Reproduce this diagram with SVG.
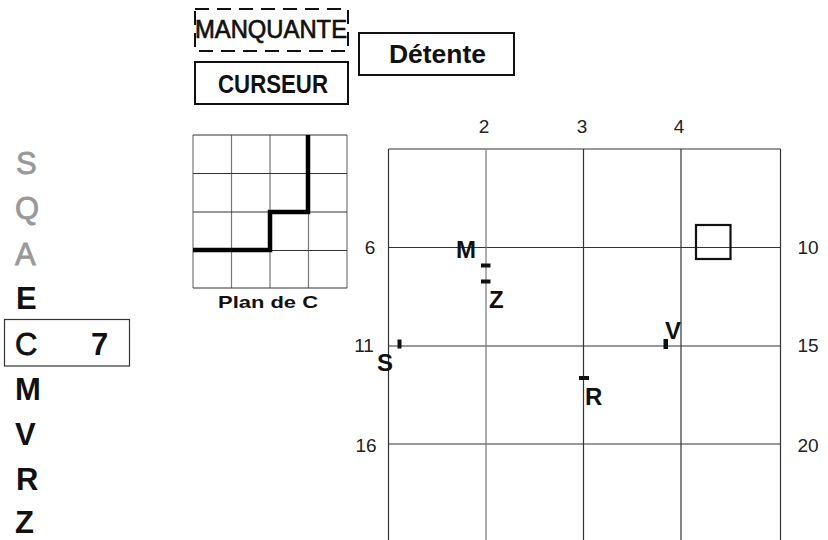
<svg xmlns="http://www.w3.org/2000/svg" width="828" height="540" viewBox="0 0 828 540">
<style>
.box{fill:none;stroke:#111;stroke-width:2}
.dash{stroke-dasharray:14 8}
.lbl{font-family:"Liberation Sans",Arial,sans-serif;font-size:25px;fill:#111}
.b{font-weight:bold}
.list{font-family:"Liberation Sans",Arial,sans-serif;font-size:31px}
.gray{fill:#999;stroke:#999;stroke-width:0.8}
.blk{fill:#111;font-weight:bold}
.num{font-family:"Liberation Sans",Arial,sans-serif;font-size:19px;fill:#222;text-anchor:middle}
.pt{font-family:"Liberation Sans",Arial,sans-serif;font-size:24px;font-weight:bold;fill:#111}
.gl{stroke:#333;stroke-width:1.2;fill:none}
.gv{stroke:#777;stroke-width:1.2;fill:none}
.mk{fill:#111}
</style>
<rect width="828" height="540" fill="#fff"/>

<g id="manquante">
<rect class="box dash" x="195" y="9" width="153" height="42"/>
<text class="lbl" x="195" y="38" stroke="#111" stroke-width="0.7" textLength="152" lengthAdjust="spacingAndGlyphs">MANQUANTE</text>
</g>
<g id="curseur">
<rect class="box" x="195" y="62" width="153" height="42"/>
<text class="lbl b" x="218" y="93" textLength="110" lengthAdjust="spacingAndGlyphs">CURSEUR</text>
</g>
<g id="detente">
<rect class="box" x="359" y="33" width="155" height="42"/>
<text class="lbl b" x="389" y="63" textLength="97" lengthAdjust="spacingAndGlyphs">Détente</text>
</g>

<g id="liste">
<text class="list gray" x="16" y="174">S</text>
<text class="list gray" x="15" y="219">Q</text>
<text class="list gray" x="15" y="265">A</text>
<text class="list blk" x="16" y="309">E</text>
<rect x="4.5" y="319.5" width="125" height="46.5" fill="none" stroke="#333" stroke-width="1.2"/>
<text class="list" x="15" y="355" fill="#111" stroke="#111" stroke-width="0.8">C</text>
<text class="list blk" x="91" y="355">7</text>
<text class="list blk" x="15" y="400">M</text>
<text class="list blk" x="15" y="445">V</text>
<text class="list blk" x="16" y="490">R</text>
<text class="list blk" x="15" y="533">Z</text>
</g>

<g id="plan-de-c">
<g class="gv">
<line x1="193" y1="135" x2="193" y2="288"/>
<line x1="231.5" y1="135" x2="231.5" y2="288"/>
<line x1="270" y1="135" x2="270" y2="288"/>
<line x1="308.5" y1="135" x2="308.5" y2="288"/>
<line x1="347" y1="135" x2="347" y2="288"/>
</g>
<g class="gl">
<line x1="193" y1="135" x2="347" y2="135"/>
<line x1="193" y1="173.5" x2="347" y2="173.5"/>
<line x1="193" y1="212" x2="347" y2="212"/>
<line x1="193" y1="250.5" x2="347" y2="250.5"/>
<line x1="193" y1="288" x2="347" y2="288"/>
</g>
<path d="M193 250 H270 V212 H308 V135" fill="none" stroke="#000" stroke-width="4.5" stroke-linejoin="miter"/>
<text x="218" y="308" font-family="Liberation Sans,Arial,sans-serif" font-size="17" font-weight="bold" fill="#111" textLength="100" lengthAdjust="spacingAndGlyphs">Plan de C</text>
</g>

<g id="grille">
<g class="gl">
<line x1="388.5" y1="149" x2="780.5" y2="149"/>
<line x1="388.5" y1="247.5" x2="780.5" y2="247.5"/>
<line x1="388.5" y1="346" x2="780.5" y2="346"/>
<line x1="388.5" y1="444" x2="780.5" y2="444"/>
<line x1="388.5" y1="149" x2="388.5" y2="540"/>
<line x1="583.5" y1="149" x2="583.5" y2="540"/>
<line x1="681" y1="149" x2="681" y2="540"/>
<line x1="780.5" y1="149" x2="780.5" y2="540"/>
</g>
<line class="gv" x1="486" y1="149" x2="486" y2="540"/>
<text class="num" x="484" y="133">2</text>
<text class="num" x="582" y="133">3</text>
<text class="num" x="679" y="133">4</text>
<text class="num" x="370" y="254">6</text>
<text class="num" x="808" y="254">10</text>
<text class="num" x="364" y="352">11</text>
<text class="num" x="808" y="352">15</text>
<text class="num" x="366" y="452">16</text>
<text class="num" x="808" y="452">20</text>
</g>

<g id="curseur-carre">
<rect x="696" y="225" width="34.5" height="34" fill="none" stroke="#111" stroke-width="2.2"/>
</g>

<g id="point-M">
<text class="pt" x="456" y="257.5">M</text>
<rect class="mk" x="481" y="263.5" width="9.5" height="4"/>
</g>
<g id="point-Z">
<rect class="mk" x="481" y="279.5" width="9.5" height="4"/>
<text class="pt" x="489" y="308">Z</text>
</g>
<g id="point-S">
<rect class="mk" x="397.5" y="339.5" width="4" height="9"/>
<text class="pt" x="377" y="371">S</text>
</g>
<g id="point-V">
<rect class="mk" x="663.5" y="339" width="4.5" height="10"/>
<text class="pt" x="665" y="339">V</text>
</g>
<g id="point-R">
<rect class="mk" x="579" y="376" width="10" height="4"/>
<text class="pt" x="585" y="405">R</text>
</g>
<g id="connecteurs"></g>
</svg>
